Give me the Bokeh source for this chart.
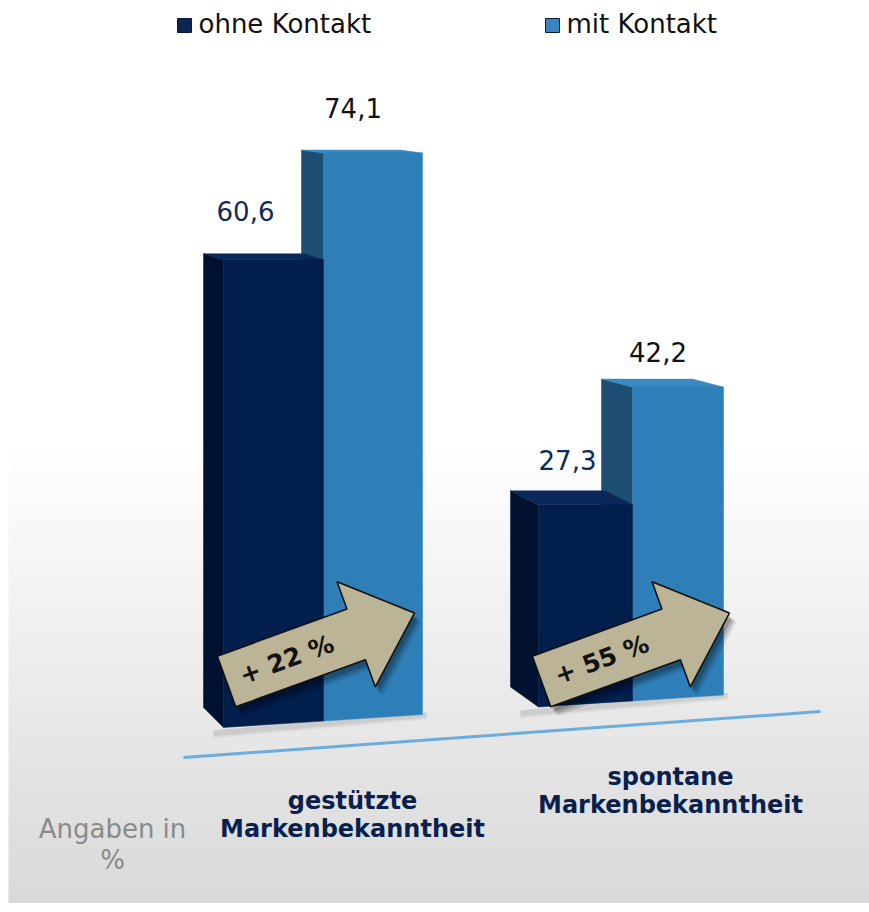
import math
from bokeh.plotting import figure
from bokeh.models import Range1d
from bokeh.core.properties import value
from bokeh.embed import file_html
from bokeh.resources import INLINE

# ---------------- data ----------------
categories_line1 = ["gestützte", "spontane"]
categories_line2 = ["Markenbekanntheit", "Markenbekanntheit"]
series_names = ["ohne Kontakt", "mit Kontakt"]
ohne_kontakt = [60.6, 27.3]
mit_kontakt = [74.1, 42.2]
ohne_labels = ["60,6", "27,3"]
mit_labels = ["74,1", "42,2"]
increase_labels = ["+ 22 %", "+ 55 %"]
unit_note = ["Angaben in", "%"]

# ---------------- layout ----------------
W, H = 869, 912
K = 7.9          # pixels per percent point
ZERO_PX = 738    # pixel row of value 0 for first group
SHIFT26 = -10    # baseline correction for 26px text
SHIFT24 = -7     # baseline correction for 24px text


def v(py):
    """pixel row -> value units"""
    return (ZERO_PX - py) / K


p = figure(width=W, height=H, x_range=Range1d(0, W), y_range=Range1d(v(H), v(0)),
           output_backend="svg", toolbar_location=None, min_border=0,
           x_axis_location=None, y_axis_location=None)
p.grid.visible = False
p.outline_line_color = None
p.background_fill_color = "white"
p.border_fill_color = "white"

# background gradient (white -> light grey)
N = 70
g0, g1 = 440, 902
for i in range(N):
    t = i / (N - 1)
    c = int(round(255 - t * (255 - 217)))
    top = g0 + (g1 - g0) * i / N
    bot = g0 + (g1 - g0) * (i + 1) / N + 0.6
    p.quad(left=8, right=W, top=v(top), bottom=v(bot),
           fill_color=(c, c, c), line_color=None)

# floor line
p.line([183, 820], [v(757), v(711)], line_color="#5ea6de", line_width=3, line_alpha=0.9)

# bar geometry (pixels)
group_tilt_px = [0, 18]
front_x0 = {"ohne": [223, 538], "mit": [323, 632]}
front_w = {"ohne": [100, 94], "mit": [99, 91]}
depth_dx = {"ohne": [20, 28], "mit": [22, 31]}
depth_dy_top = {"ohne": [6, 14], "mit": [3, 8]}
DY_BOT = 20
COLORS = {
    "ohne": {"front": "#021e4d", "side": "#00122f", "top": "#0a2859"},
    "mit": {"front": "#2e7eb8", "side": "#1e4e74", "top": "#3989c3"},
}


def floor_px(x):
    return 727 - 0.065 * (x - 223)


# soft shadows below bars
for gi in range(2):
    x0 = front_x0["ohne"][gi] - depth_dx["ohne"][gi]
    x1 = front_x0["mit"][gi] + front_w["mit"][gi]
    for k_, a in ((5, 0.05), (3, 0.07)):
        p.patch([x0 + 10, x1 + 4, x1 + 4, x0 + 10],
                [v(floor_px(x0 + 10) + 2), v(floor_px(x1) - 2),
                 v(floor_px(x1) + k_), v(floor_px(x0 + 10) + 2 + k_ + 3)],
                fill_color="black", fill_alpha=a, line_color=None)


def draw_bar(key, gi, val):
    x0 = front_x0[key][gi]
    x1 = x0 + front_w[key][gi]
    dx = depth_dx[key][gi]
    dyt = depth_dy_top[key][gi] / K
    topv = val + group_tilt_px[gi] / K
    b0 = v(floor_px(x0))
    b1 = v(floor_px(x1))
    col = COLORS[key]
    # side face
    p.patch([x0, x0 - dx, x0 - dx, x0], [topv, topv + dyt, v(floor_px(x0) - DY_BOT), b0],
            fill_color=col["side"], line_color=col["side"], line_width=0.5)
    # top face
    p.patch([x0, x1, x1 - dx, x0 - dx], [topv, topv, topv + dyt, topv + dyt],
            fill_color=col["top"], line_color=col["top"], line_width=0.5)
    # front face
    p.patch([x0, x1, x1, x0], [topv, topv, b1, b0],
            fill_color=col["front"], line_color=col["front"], line_width=0.5)
    return x0, x1, topv


bar_info = {}
for gi in range(2):
    bar_info[("mit", gi)] = draw_bar("mit", gi, mit_kontakt[gi])
    bar_info[("ohne", gi)] = draw_bar("ohne", gi, ohne_kontakt[gi])

# value labels
label_dx = {"ohne": [-28, -18], "mit": [-20, -20]}
label_gap = {"ohne": [39, 35], "mit": [35, 25]}
for key, labels, color in (("ohne", ohne_labels, "#0f2a57"), ("mit", mit_labels, "#111111")):
    for gi in range(2):
        x0, x1, topv = bar_info[(key, gi)]
        p.text(x=[(x0 + x1) / 2 + label_dx[key][gi]],
               y=[topv + (label_gap[key][gi] - SHIFT26) / K],
               text=[labels[gi]], text_font=value("DejaVu Sans"), text_font_size="26px",
               text_color=color, text_align="center", text_baseline="alphabetic")

# arrows
ANG = math.radians(20)
L, HEAD_U, SHAFT_HW, HEAD_HW = 200, 138, 27, 56
template = [(0, SHAFT_HW), (0, -SHAFT_HW), (HEAD_U, -SHAFT_HW), (HEAD_U, -HEAD_HW),
            (L, 0), (HEAD_U, HEAD_HW), (HEAD_U, SHAFT_HW)]


def arrow_pts(ax, ay, ox=0, oy=0):
    xs, ys = [], []
    for u, w in template:
        px = ax + u * math.cos(ANG) + w * math.sin(ANG) + ox
        py = ay - u * math.sin(ANG) + w * math.cos(ANG) + oy
        xs.append(px)
        ys.append(v(py))
    return xs, ys


for gi in range(2):
    ax = front_x0["ohne"][gi] + 3
    ay = 681
    for (ox, oy, a) in ((7, 9, 0.10), (5, 7, 0.14), (3, 5, 0.18)):
        sx, sy = arrow_pts(ax, ay, ox, oy)
        p.patch(sx, sy, fill_color="black", fill_alpha=a, line_color=None)
    xs, ys = arrow_pts(ax, ay)
    p.patch(xs, ys, fill_color="#bcb497", line_color="#111111", line_width=1.6)
    tu = 64
    tx = ax + tu * math.cos(ANG)
    ty = ay - tu * math.sin(ANG)
    p.text(x=[tx], y=[v(ty)], text=[increase_labels[gi]], angle=ANG,
           text_font=value("DejaVu Sans"), text_font_style="bold", text_font_size="25px",
           text_color="#111111", text_align="center", text_baseline="middle")

# category labels
cat_x = [352, 670]
cat_base1 = [807, 783]
cat_base2 = [835, 811]
for gi in range(2):
    for txt, by in ((categories_line1[gi], cat_base1[gi]), (categories_line2[gi], cat_base2[gi])):
        p.text(x=[cat_x[gi]], y=[v(by + SHIFT24)], text=[txt], text_font=value("DejaVu Sans"),
               text_font_style="bold", text_font_size="24px", text_color="#0a1f4d",
               text_align="center", text_baseline="alphabetic")

# unit note
for txt, by in zip(unit_note, [835, 866]):
    p.text(x=[112], y=[v(by + SHIFT26 + 3)], text=[txt], text_font=value("DejaVu Sans"),
           text_font_size="26px", text_color="#8a8a8a", text_align="center",
           text_baseline="alphabetic")

# legend
leg_x = [177, 545]
leg_colors = ["#0b2452", "#3785c0"]
for i in range(2):
    p.quad(left=leg_x[i], right=leg_x[i] + 14, top=v(18), bottom=v(32),
           fill_color=leg_colors[i], line_color="#0a1a3a", line_width=1)
    p.text(x=[leg_x[i] + 21], y=[v(33 + SHIFT26)], text=[series_names[i]],
           text_font=value("DejaVu Sans"), text_font_size="26px", text_color="#111111",
           text_align="left", text_baseline="alphabetic")

open("out.html", "w").write(file_html(p, INLINE))
